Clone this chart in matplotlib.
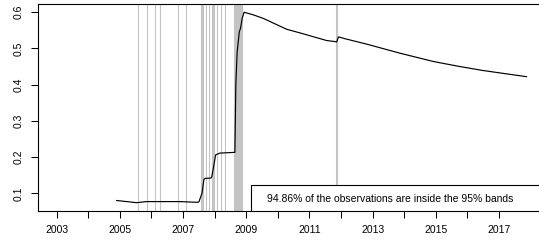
import matplotlib
matplotlib.use("Agg")
import matplotlib.pyplot as plt
from matplotlib.patches import Rectangle

plt.rcParams['font.family'] = ['Liberation Sans', 'DejaVu Sans']

# fitted series (decimal year, value)
years = [2004.90, 2005.53, 2005.85, 2006.90, 2007.44, 2007.50, 2007.60, 2007.66,
         2007.69, 2007.88, 2007.91, 2007.96, 2008.03, 2008.17, 2008.64, 2008.67,
         2008.71, 2008.78, 2008.82, 2008.87, 2008.93, 2009.22, 2009.54, 2010.28,
         2010.70, 2011.54, 2011.81, 2011.86, 2011.92, 2012.12, 2012.81, 2013.86,
         2014.92, 2015.76, 2016.50, 2017.87]
values = [0.080, 0.074, 0.077, 0.077, 0.075, 0.076, 0.100, 0.138,
          0.141, 0.142, 0.146, 0.170, 0.206, 0.211, 0.213, 0.400,
          0.488, 0.546, 0.556, 0.583, 0.600, 0.593, 0.583, 0.553,
          0.543, 0.522, 0.519, 0.518, 0.532, 0.527, 0.512, 0.487,
          0.464, 0.450, 0.439, 0.422]

# dates of observations outside the bands
outside = [2005.56, 2005.85, 2006.10, 2006.26, 2006.85, 2007.09,
           2007.57, 2007.60, 2007.63, 2007.72, 2007.82,
           2007.92, 2007.95, 2007.98, 2008.07, 2008.19, 2008.33,
           2008.62, 2008.64, 2008.66, 2008.68, 2008.70, 2008.72, 2008.74,
           2008.76, 2008.78, 2008.80, 2008.82, 2008.84, 2008.86,
           2011.84, 2011.87]

tick_years = list(range(2003, 2018))
tick_labels = [str(y) if y % 2 == 1 else "" for y in tick_years]
y_ticks = [0.1, 0.2, 0.3, 0.4, 0.5, 0.6]
legend_text = "94.86% of the observations are inside the 95% bands"

fig = plt.figure(figsize=(5.39, 2.43), dpi=100)
ax = fig.add_axes([0.0699, 0.1317, 0.944, 0.8506])

for d in outside:
    ax.axvline(d, color='#c4c4c4', lw=0.8, zorder=1)

ax.plot(years, values, color='black', lw=0.85, zorder=2)

ax.set_xlim(2002.4, 2018.5)
ax.set_ylim(0.051, 0.622)
ax.set_xticks(tick_years)
ax.set_xticklabels(tick_labels)
ax.set_yticks(y_ticks)
ax.set_yticklabels([f"{v:.1f}" for v in y_ticks], rotation=90, va='center')
ax.tick_params(labelsize=7.5, length=5, width=0.75, pad=5, colors='black')

for s in ax.spines.values():
    s.set_linewidth(0.8)

# legend box in bottom right corner
ax.add_patch(Rectangle((0.419, 0), 0.6, 0.126, transform=ax.transAxes,
                       facecolor='white', edgecolor='black', lw=0.8, zorder=3))
ax.text(0.45, 0.06, legend_text, transform=ax.transAxes, fontsize=7.5,
        ha='left', va='center', zorder=4)

fig.savefig("out.png", dpi=100)
